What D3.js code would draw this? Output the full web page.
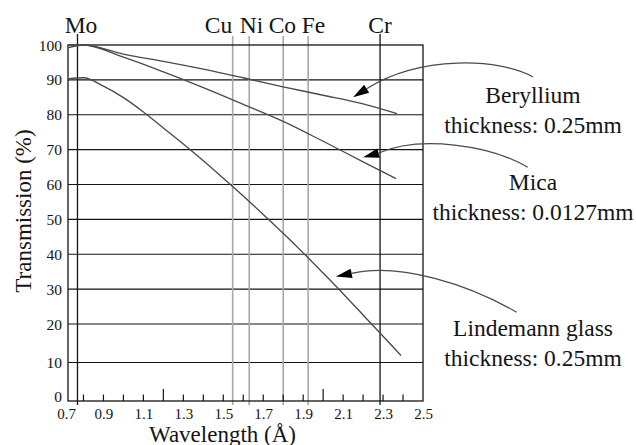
<!DOCTYPE html>
<html>
<head>
<meta charset="utf-8">
<script src="https://cdn.jsdelivr.net/npm/d3@7"></script>
<style>
  html, body { margin: 0; padding: 0; background: #fff; }
  svg { display: block; font-family: "Liberation Serif", "Times New Roman", Times, serif; }
</style>
</head>
<body>
<svg id="chart" width="636" height="445"></svg>
<script>
// Transmission of common X-ray window materials vs wavelength

// Beryllium, thickness 0.25 mm  [wavelength Å, transmission %]
const beryllium = [
  [0.7225, 99.2], [0.8, 100], [1.0, 97.4], [1.2, 95.3], [1.4, 93.1],
  [1.6, 90.6], [1.8, 88.0], [2.0, 85.6], [2.2, 83.1], [2.37, 80.3]
];
// Mica, thickness 0.0127 mm
const mica = [
  [0.7225, 100], [0.8, 100], [1.0, 96.5], [1.2, 92.3], [1.4, 87.8],
  [1.6, 83.0], [1.8, 78.1], [2.0, 72.4], [2.2, 66.5], [2.365, 61.7]
];
// Lindemann glass, thickness 0.25 mm
const lindemann = [
  [0.7225, 90.3], [0.8, 90.6], [0.9, 88.2], [1.0, 84.9], [1.1, 80.8],
  [1.2, 76.2], [1.3, 71.6], [1.4, 66.8], [1.5, 61.8], [1.6, 56.7],
  [1.7, 51.4], [1.8, 46.0], [1.9, 40.4], [2.0, 34.6], [2.1, 28.7],
  [2.2, 22.6], [2.3, 16.8], [2.39, 11.8]
];

// Characteristic K-alpha lines of anode elements
const elements = ["Mo", "Cu", "Ni", "Co", "Fe", "Cr"];
const elementWavelengths = [0.77, 1.547, 1.63, 1.80, 1.925, 2.285];

// Axis ticks
const xTickLabels = [0.7, 0.9, 1.1, 1.3, 1.5, 1.7, 1.9, 2.1, 2.3, 2.5];
const xMinorTicks = [0.8, 0.9, 1.0, 1.1, 1.3, 1.4, 1.5, 1.6, 1.7, 1.8, 1.9, 2.1, 2.2, 2.3, 2.4];
const xMajorTicks = [1.2, 2.0];
const yTicks = [0, 10, 20, 30, 40, 50, 60, 70, 80, 90, 100];

// Annotation labels and the point on each curve their arrows reach
const annotationNames = ["Beryllium", "Mica", "Lindemann glass"];
const annotationThickness = ["thickness: 0.25mm", "thickness: 0.0127mm", "thickness: 0.25mm"];
const annotationAnchors = [[2.15, 85.0], [2.2, 67.8], [2.064, 33.6]];

const svg = d3.select("#chart");
const ink = "#141414";
const curveInk = "#4a4a4a";

const frameLeft = 0.7225, frameRight = 2.5;
const x = d3.scaleLinear().domain([0.7, 2.5]).range([63.5, 423]);
const y = d3.scaleLinear().domain([0, 10, 20, 100]).range([401, 362.5, 324, 45]);

const x0 = x(frameLeft), x1 = x(frameRight), yTop = y(100), yBot = y(0);

// Horizontal grid lines
svg.append("g").selectAll("line").data(yTicks.filter(d => d > 0 && d < 100)).join("line")
  .attr("x1", x0).attr("x2", x1)
  .attr("y1", d => y(d)).attr("y2", d => y(d))
  .attr("stroke", ink).attr("stroke-width", 1.2);

// Element lines
const lightElements = new Set(["Cu", "Ni", "Co", "Fe"]);
svg.append("g").selectAll("line").data(elements).join("line")
  .attr("x1", (d, i) => x(elementWavelengths[i])).attr("x2", (d, i) => x(elementWavelengths[i]))
  .attr("y1", d => lightElements.has(d) ? 36 : 34).attr("y2", yBot + 4)
  .attr("stroke", d => lightElements.has(d) ? "#a8a8a8" : ink)
  .attr("stroke-width", d => lightElements.has(d) ? 1.6 : 1.3);

// Element labels, nudged so neighbours do not collide
const labelNudge = { Mo: [3.5, "middle"], Cu: [-0.5, "end"], Ni: [-9.5, "start"], Co: [-14.5, "start"], Fe: [-6.5, "start"], Cr: [0, "middle"] };
svg.append("g").selectAll("text").data(elements).join("text")
  .attr("x", (d, i) => x(elementWavelengths[i]) + labelNudge[d][0])
  .attr("y", 32.5)
  .attr("text-anchor", d => labelNudge[d][1])
  .attr("font-size", 23.5).attr("fill", ink)
  .text(d => d);

// Frame
svg.append("rect")
  .attr("x", x0).attr("y", yTop).attr("width", x1 - x0).attr("height", yBot - yTop)
  .attr("fill", "none").attr("stroke", ink).attr("stroke-width", 1.3);

// X tick marks (pointing inward)
svg.append("g").selectAll("line").data(xMinorTicks.concat(xMajorTicks)).join("line")
  .attr("x1", d => x(d)).attr("x2", d => x(d))
  .attr("y1", yBot).attr("y2", d => yBot - (xMajorTicks.includes(d) ? 12 : 6.5))
  .attr("stroke", ink).attr("stroke-width", 1.2);

// X tick labels
svg.append("g").selectAll("text").data(xTickLabels).join("text")
  .attr("x", d => x(d) + (d === 0.7 ? 3 : 0.5)).attr("y", 418.5)
  .attr("text-anchor", "middle").attr("font-size", 15).attr("fill", ink)
  .text(d => d3.format(".1f")(d));

// Y tick labels
svg.append("g").selectAll("text").data(yTicks).join("text")
  .attr("x", 62).attr("y", d => y(d) + (d === 0 ? 1 : 5.5))
  .attr("text-anchor", "end").attr("font-size", 15.5).attr("fill", ink)
  .text(d => d);

// Axis titles
svg.append("text")
  .attr("transform", `translate(31,211) rotate(-90)`)
  .attr("text-anchor", "middle").attr("font-size", 23).attr("fill", ink)
  .text("Transmission (%)");
svg.append("text")
  .attr("x", 222.5).attr("y", 441.5)
  .attr("text-anchor", "middle").attr("font-size", 23).attr("fill", ink)
  .text("Wavelength (Å)");

// Transmission curves
const line = d3.line().x(d => x(d[0])).y(d => y(d[1])).curve(d3.curveMonotoneX);
svg.append("g").selectAll("path").data([beryllium, mica, lindemann]).join("path")
  .attr("d", line)
  .attr("fill", "none").attr("stroke", curveInk).attr("stroke-width", 1.35);

// Annotation text blocks
const labelCx = 533;
const labelBaselines = [[102.7, 132.7], [190, 220], [336, 366]];
annotationNames.forEach((name, i) => {
  svg.append("text").attr("x", labelCx).attr("y", labelBaselines[i][0])
    .attr("text-anchor", "middle").attr("font-size", 23.5).attr("fill", ink).text(name);
  svg.append("text").attr("x", labelCx).attr("y", labelBaselines[i][1])
    .attr("text-anchor", "middle").attr("font-size", 23.5).attr("fill", ink).text(annotationThickness[i]);
});

// Curved leader arrows from each label to its curve
const leaderShapes = [
  // tail, control 1, control 2, head direction (dx, dy)
  { tail: [533, 77], c1: [500, 58], c2: [420, 55], dir: [-13.5, 8.5] },
  { tail: [527.7, 167.3], c1: [490, 145], c2: [420, 135], dir: [-15.9, 4.3] },
  { tail: [516.7, 312.3], c1: [470, 285], c2: [400, 262], dir: [-15.7, 3.2] }
];
const headLen = 16, headHalfWidth = 4.8;
annotationAnchors.forEach((a, i) => {
  const tip = [x(a[0]), y(a[1])];
  const s = leaderShapes[i];
  const len = Math.hypot(s.dir[0], s.dir[1]);
  const ux = s.dir[0] / len, uy = s.dir[1] / len;
  const base = [tip[0] - ux * headLen, tip[1] - uy * headLen];
  const p = d3.path();
  p.moveTo(s.tail[0], s.tail[1]);
  p.bezierCurveTo(s.c1[0], s.c1[1], s.c2[0], s.c2[1], base[0], base[1]);
  svg.append("path").attr("d", p.toString())
    .attr("fill", "none").attr("stroke", curveInk).attr("stroke-width", 1.2);
  const px = -uy, py = ux;
  const head = [
    tip,
    [base[0] + px * headHalfWidth, base[1] + py * headHalfWidth],
    [base[0] - px * headHalfWidth, base[1] - py * headHalfWidth]
  ];
  svg.append("path").attr("d", "M" + head.map(q => q.join(",")).join("L") + "Z")
    .attr("fill", "#000").attr("stroke", "none");
});
</script>
</body>
</html>
